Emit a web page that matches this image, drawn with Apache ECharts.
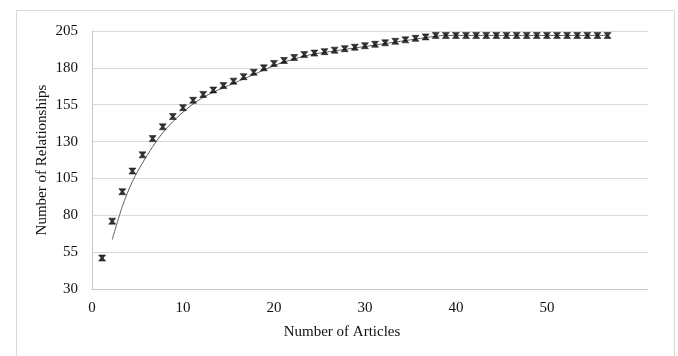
<!DOCTYPE html>
<html>
<head>
<meta charset="utf-8">
<script src="https://cdn.jsdelivr.net/npm/echarts@6/dist/echarts.min.js"></script>
<style>html,body{margin:0;padding:0;background:#fff;}#c{width:678px;height:356px;}</style>
</head>
<body>
<div id="c"></div>
<script>
// Number of articles (x) and cumulative number of relationships (y)
const articles = [1,2,3,4,5,6,7,8,9,10,11,12,13,14,15,16,17,18,19,20,21,22,23,24,25,26,27,28,29,30,31,32,33,34,35,36,37,38,39,40,41,42,43,44,45,46,47,48,49,50,51];
const relationships = [51,76,96,110,121,132,140,147,153,158,162,165,168,171,174,177,180,183,185,187,189,190,191,192,193,194,195,196,197,198,199,200,201,202,202,202,202,202,202,202,202,202,202,202,202,202,202,202,202,202,202];
const xTickLabels = ['0','10','20','30','40','50'];
const yTickLabels = ['30','55','80','105','130','155','180','205'];

const scatterData = articles.map((a, i) => [a, relationships[i]]);
// 2-period moving average trendline
const trendData = [];
for (let i = 1; i < relationships.length; i++) {
  trendData.push([articles[i], (relationships[i - 1] + relationships[i]) / 2]);
}

const font = 'Liberation Serif, Times New Roman, serif';
const chart = echarts.init(document.getElementById('c'), null, {renderer: 'canvas'});
chart.setOption({
  animation: false,
  backgroundColor: '#fff',
  graphic: [{
    type: 'rect', left: 14, top: 8, shape: {x: 0, y: 0, width: 658, height: 360},
    style: {fill: 'none', stroke: '#d9d9d9', lineWidth: 1}, silent: true
  }],
  grid: {left: 92, right: 30, top: 31, bottom: 67},
  xAxis: {
    type: 'value', min: 0, max: 55, interval: 9,
    name: 'Number of Articles', nameLocation: 'middle', nameGap: 36, nameMoveOverlap: false,
    nameTextStyle: {fontFamily: font, fontSize: 15, color: '#111', padding: [0, 56, 0, 0]},
    axisLine: {show: true, lineStyle: {color: '#c8c8c8', width: 1}},
    axisTick: {show: false},
    splitLine: {show: false},
    axisLabel: {
      fontFamily: font, fontSize: 15, color: '#111', margin: 12,
      formatter: v => { const k = Math.round(v / 9); return xTickLabels[k] !== undefined ? xTickLabels[k] : ''; }
    }
  },
  yAxis: {
    type: 'value', min: 30, max: 205, interval: 25,
    name: 'Number of Relationships', nameLocation: 'middle', nameGap: 42, nameMoveOverlap: false,
    nameTextStyle: {fontFamily: font, fontSize: 15, color: '#111'},
    axisLine: {show: true, lineStyle: {color: '#c8c8c8', width: 1}},
    axisTick: {show: false},
    splitLine: {show: true, lineStyle: {color: '#d9d9d9', width: 1}},
    axisLabel: {
      fontFamily: font, fontSize: 15, color: '#111', margin: 14,
      formatter: v => { const k = Math.round((v - 30) / 25); return yTickLabels[k] !== undefined ? yTickLabels[k] : ''; }
    }
  },
  series: [
    {
      type: 'line', data: trendData, showSymbol: false, smooth: 0.3,
      lineStyle: {color: '#5e5e5e', width: 1}, z: 2
    },
    {
      type: 'scatter', data: scatterData,
      symbol: 'path://M0,0H10L6.5,5L10,10H0L3.5,5Z', symbolSize: [7, 6],
      itemStyle: {color: '#000', borderColor: '#000', borderWidth: 0.6}, z: 3
    }
  ]
});
</script>
</body>
</html>
